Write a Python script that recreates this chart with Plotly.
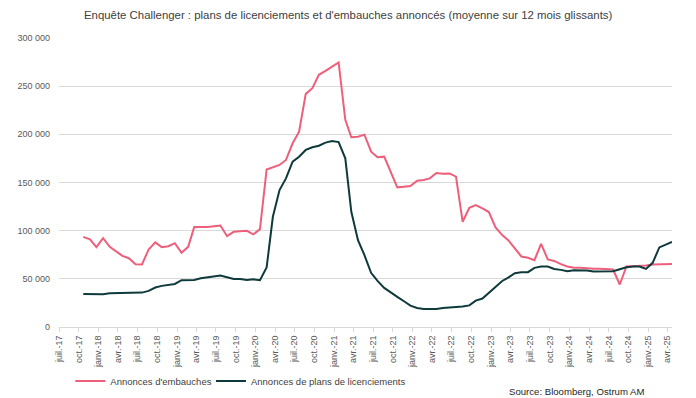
import pandas as pd
import plotly.graph_objects as go

# Monthly data, oct.-17 .. avr.-25 (12-month moving averages, in thousands)
start_month = "2017-10"
n_months = 91

embauches = [
    93.6, 90.9, 82.9, 92.2, 83.2, 79.0, 73.8, 71.4, 65.2, 64.9,
    80.5, 87.8, 82.9, 83.9, 87.0, 77.0, 83.2, 103.7, 103.7, 103.7,
    104.7, 105.4, 94.3, 98.8, 99.5, 99.8, 96.1, 101.6, 163.5, 165.8,
    168.2, 173.4, 190.7, 202.8, 242.0, 247.9, 261.8, 265.9, 270.4, 274.6,
    215.0, 197.0, 197.6, 199.7, 182.0, 176.2, 176.8, 160.6, 145.0, 145.6,
    146.3, 151.8, 152.6, 154.3, 159.8, 159.1, 159.4, 156.0, 109.2, 123.8,
    126.6, 123.1, 119.3, 103.4, 95.4, 90.2, 81.5, 73.2, 71.8, 69.4,
    86.3, 70.1, 68.6, 65.2, 62.8, 61.4, 61.4, 60.7, 60.4, 60.4,
    60.0, 59.7, 44.1, 62.8, 63.1, 63.1, 63.8, 64.9, 64.9, 65.2,
    65.5,
]

licenciements = [
    34.3, 34.0, 34.0, 34.0, 35.0, 35.0, 35.0, 35.0, 35.0, 35.7,
    37.5, 41.0, 42.7, 43.4, 44.7, 48.6, 48.6, 48.9, 50.6, 51.3,
    52.0, 53.4, 51.7, 49.9, 49.9, 48.9, 49.5, 48.6, 61.8, 114.4,
    142.2, 154.3, 171.6, 176.8, 183.8, 186.6, 188.2, 191.4, 193.1, 192.0,
    175.1, 119.6, 90.2, 74.6, 56.2, 47.8, 40.6, 35.4, 31.2, 26.7,
    22.2, 19.8, 18.7, 18.7, 18.7, 19.8, 20.1, 20.8, 21.2, 22.4,
    27.4, 29.5, 35.7, 41.6, 47.8, 51.3, 55.8, 56.9, 56.9, 61.4,
    62.8, 62.8, 60.3, 59.3, 57.9, 59.0, 59.0, 58.6, 57.6, 57.9,
    57.9, 57.9, 60.0, 62.1, 62.8, 62.8, 60.3, 66.6, 82.6, 85.7,
    88.4,
]

tick_dates = pd.date_range("2017-07-01", "2025-04-01", freq="3MS")
month_abbr = {1: "janv.", 4: "avr.", 7: "juil.", 10: "oct."}
tick_labels = [f"{month_abbr[d.month]}-{d.year % 100:02d}" for d in tick_dates]

y_ticks = [0, 50000, 100000, 150000, 200000, 250000, 300000]

series_names = ["Annonces d'embauches", "Annonces de plans de licenciements"]
series_colors = ["#ee5f7b", "#0f3a3c"]
series_legends = ["legend", "legend2"]

# data points dated in the last third of each month
dates = pd.date_range(start_month + "-01", periods=n_months, freq="MS") + pd.Timedelta(days=21)

fig = go.Figure()
for name, vals, col, lg in zip(series_names, [embauches, licenciements], series_colors, series_legends):
    fig.add_trace(go.Scatter(
        x=dates, y=[v * 1000 for v in vals], mode="lines", name=name,
        line=dict(color=col, width=2), legend=lg,
    ))

font_family = "Liberation Sans, Arial, sans-serif"

legend_common = dict(orientation="h", xref="container", yref="container",
                     y=0.0436, xanchor="left", yanchor="middle",
                     font=dict(size=9.5, color="#404040"),
                     bgcolor="rgba(0,0,0,0)", itemwidth=30, borderwidth=0)

# the page adds an 8px body margin, so the figure is 8px smaller than the window
fig.update_layout(
    width=688, height=390,
    margin=dict(l=51, r=24, t=30, b=71, autoexpand=False),
    paper_bgcolor="white", plot_bgcolor="white",
    separators=", ",
    font=dict(family=font_family, size=9, color="#595959"),
    showlegend=True,
    legend=dict(x=0.0906, **legend_common),
    legend2=dict(x=0.2950, **legend_common),
    xaxis=dict(
        type="date", automargin=False,
        range=[dates[0] - pd.Timedelta(days=21) - pd.DateOffset(months=3), dates[-1]],
        tickvals=list(tick_dates), ticktext=tick_labels,
        tickangle=-90, tickfont=dict(size=9, color="#595959"),
        showgrid=False, showline=True, linecolor="#d9d9d9", linewidth=1,
        ticks="outside", ticklen=4, tickcolor="#d9d9d9", zeroline=False,
    ),
    yaxis=dict(
        automargin=False,
        range=[0, 300000], tickvals=y_ticks, tickformat=",d",
        tickfont=dict(size=9, color="#595959"),
        showgrid=True, gridcolor="#d9d9d9", gridwidth=1,
        zeroline=False, showline=False, ticks="", ticklabelstandoff=8,
    ),
    annotations=[
        dict(text="Enquête Challenger : plans de licenciements et d'embauches annoncés (moyenne sur 12 mois glissants)",
             xref="paper", yref="paper", x=0.4726, y=1.079, xanchor="center", yanchor="middle",
             showarrow=False, font=dict(size=11.4, color="#404040")),
        dict(text="Source: Bloomberg, Ostrum AM",
             xref="paper", yref="paper", x=0.957, y=-0.223, xanchor="right", yanchor="middle",
             showarrow=False, font=dict(size=9.6, color="#262626")),
    ],
)

fig.write_html("out.html")
